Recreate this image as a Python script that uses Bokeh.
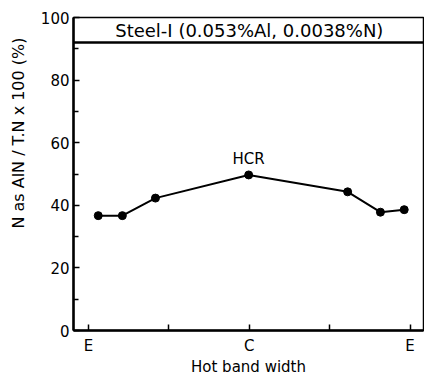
from bokeh.plotting import figure
from bokeh.models import FixedTicker, Span, Range1d, Label, Title
from bokeh.embed import file_html
from bokeh.resources import INLINE

# Data
positions = [3.0, 10.5, 20.8, 49.8, 80.6, 90.8, 98.2]
aln_ratio = [36.7, 36.7, 42.3, 49.7, 44.3, 37.8, 38.6]
x_ticks = [0, 25, 50, 75, 100]
x_tick_labels = {0: "E", 25: "", 50: "C", 75: "", 100: "E"}
y_ticks = [0, 20, 40, 60, 80, 100]
y_minor = [10, 30, 50, 70, 90]
title_text = "Steel-I (0.053%Al, 0.0038%N)"
box_level = 92
peak_label = "HCR"
x_title = "Hot band width"
y_title = "N as AlN / T.N x 100 (%)"

FONT = "DejaVu Sans"

p = figure(width=424, height=378, output_backend="svg", toolbar_location=None,
           x_range=Range1d(-4.7, 104.2), y_range=Range1d(0, 100),
           min_border_left=72, min_border_top=17, min_border_bottom=46, min_border_right=1)
p.grid.visible = False
p.outline_line_color = "black"
p.outline_line_width = 1.5

p.line(positions, aln_ratio, line_color="black", line_width=2)
p.scatter(positions, aln_ratio, size=8, color="black")

p.add_layout(Span(location=box_level, dimension="width", line_color="black", line_width=2.5))
p.add_layout(Label(x=50, y=96, text=title_text, text_align="center", text_baseline="middle",
                   text_font=FONT, text_font_size="18px", text_color="black"))
p.add_layout(Label(x=49.8, y=54.8, text=peak_label, text_align="center", text_baseline="middle",
                   text_font=FONT, text_font_size="15px", text_color="black"))

# y-axis title: in the reference it sits above the middle of the axis
p.add_layout(Title(text=y_title, align="right", offset=20, vertical_align="top",
                   text_font=FONT, text_font_size="16px", text_font_style="normal",
                   text_color="black", standoff=16), "left")

for ax in (p.xaxis[0], p.yaxis[0]):
    ax.axis_line_width = 2.5
    ax.axis_line_color = "black"
    ax.major_tick_in = 6
    ax.major_tick_out = 0
    ax.minor_tick_in = 5
    ax.minor_tick_out = 0
    ax.major_tick_line_width = 1.5
    ax.minor_tick_line_width = 1.5
    ax.major_label_text_font = FONT
    ax.major_label_text_font_size = "15px"
    ax.major_label_text_color = "black"

p.xaxis.ticker = FixedTicker(ticks=x_ticks, minor_ticks=[])
p.xaxis.major_label_overrides = x_tick_labels
p.xaxis.major_label_standoff = 6
p.xaxis.axis_label = x_title
p.xaxis.axis_label_text_font = FONT
p.xaxis.axis_label_text_font_style = "normal"
p.xaxis.axis_label_text_font_size = "15px"
p.xaxis.axis_label_text_color = "black"
p.xaxis.axis_label_standoff = 0

p.yaxis.ticker = FixedTicker(ticks=y_ticks, minor_ticks=y_minor)
p.yaxis.major_label_standoff = 4

open("out.html", "w").write(file_html(p, INLINE))
